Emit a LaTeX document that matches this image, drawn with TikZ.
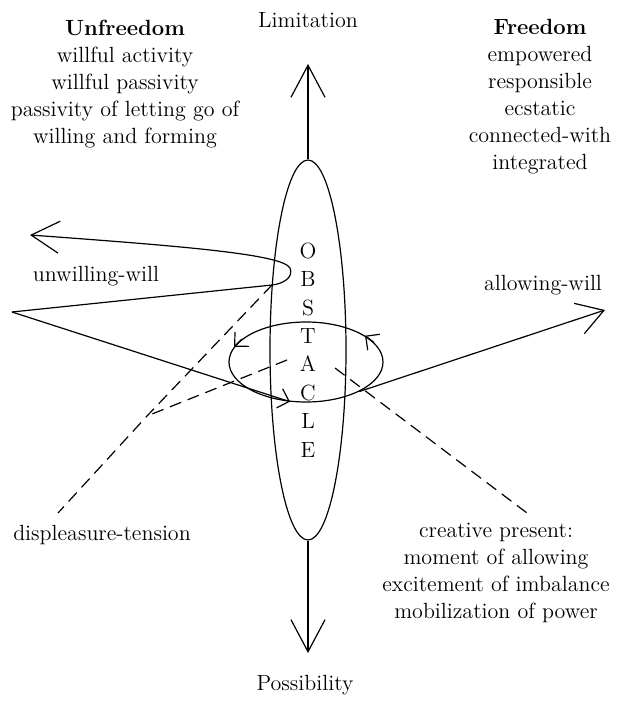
\documentclass[tikz,border=0pt]{standalone}
\usepackage{tikz}
\usetikzlibrary{arrows.meta,shapes.geometric}

\tikzset{
    txt/.style={font=\fontsize{11}{13.5}\selectfont, align=center, inner sep=0pt},
    bigtip/.style={-{Straight Barb[length=16pt,width=17pt]}},
    smalltip/.style={-{Straight Barb[length=5pt,width=10pt]}},
    guide/.style={dash pattern=on 6pt off 3.5pt},
}

\begin{document}
\begin{tikzpicture}[x=0.5pt,y=-0.5pt,line width=0.6pt]
    \useasboundingbox (0,0) rectangle (616,705);

    % labels
    \node[txt] (limit) at (308,20) {Limitation};
    \node[txt] (possib) at (305,685) {Possibility};
    \node[txt] (unfree) at (125,84) {\textbf{Unfreedom}\\willful activity\\willful passivity\\passivity of letting go of\\willing and forming};
    \node[txt] (free) at (540,97) {\textbf{Freedom}\\empowered\\responsible\\ecstatic\\connected-with\\integrated};
    \node[txt] (unwill) at (96,276) {unwilling-will};
    \node[txt] (allow) at (543,285) {allowing-will};
    \node[txt] (displ) at (102,535) {displeasure-tension};
    \node[txt] (creat) at (496,573) {creative present:\\moment of allowing\\excitement of imbalance\\mobilization of power};

    % obstacle and the small loop round it
    \node[draw, ellipse, minimum width=38pt, minimum height=190pt, inner sep=0pt,
          font=\fontsize{11}{14.2}\selectfont, align=center] (obst) at (308,350) {O\\B\\S\\T\\A\\C\\L\\E};
    \node[draw, ellipse, minimum width=77pt, minimum height=40pt] (loop) at (306,362) {};

    \coordinate (limtip) at (308,64);
    \coordinate (postip) at (308,653);
    \draw[bigtip] (obst.north) -- (limtip);
    \draw[bigtip] (obst.south) -- (postip);

    % the will paths
    \coordinate (uwtip) at (30,235);
    \coordinate (lv) at (12,312);
    \coordinate (lpend) at (272,285);
    \coordinate (awtip) at (605,310);
    \draw[{Straight Barb[length=14pt,width=16pt]}-] (uwtip) .. controls (180,246) and (282,254) .. (290,268)
        .. controls (294,278) and (282,284) .. (lpend) -- (lv);
    \draw[smalltip] (lv) -- (loop.248);
    \draw[-{Straight Barb[length=13pt,width=16pt]}] (loop.331) -- (awtip);
    \draw[smalltip] (loop.160) -- (loop.168);
    \draw[smalltip] (loop.16) -- (loop.24);

    % dashed guides to the labels
    \coordinate (junc) at (147,416);
    \coordinate (inA) at (287,360);
    \coordinate (inC) at (335,368);
    \coordinate (dend) at (58,513);
    \coordinate (cend) at (527,513);
    \draw[guide] (lpend) -- (junc) -- (dend);
    \draw[guide] (inA) -- (junc);
    \draw[guide] (inC) -- (cend);
\end{tikzpicture}
\end{document}
